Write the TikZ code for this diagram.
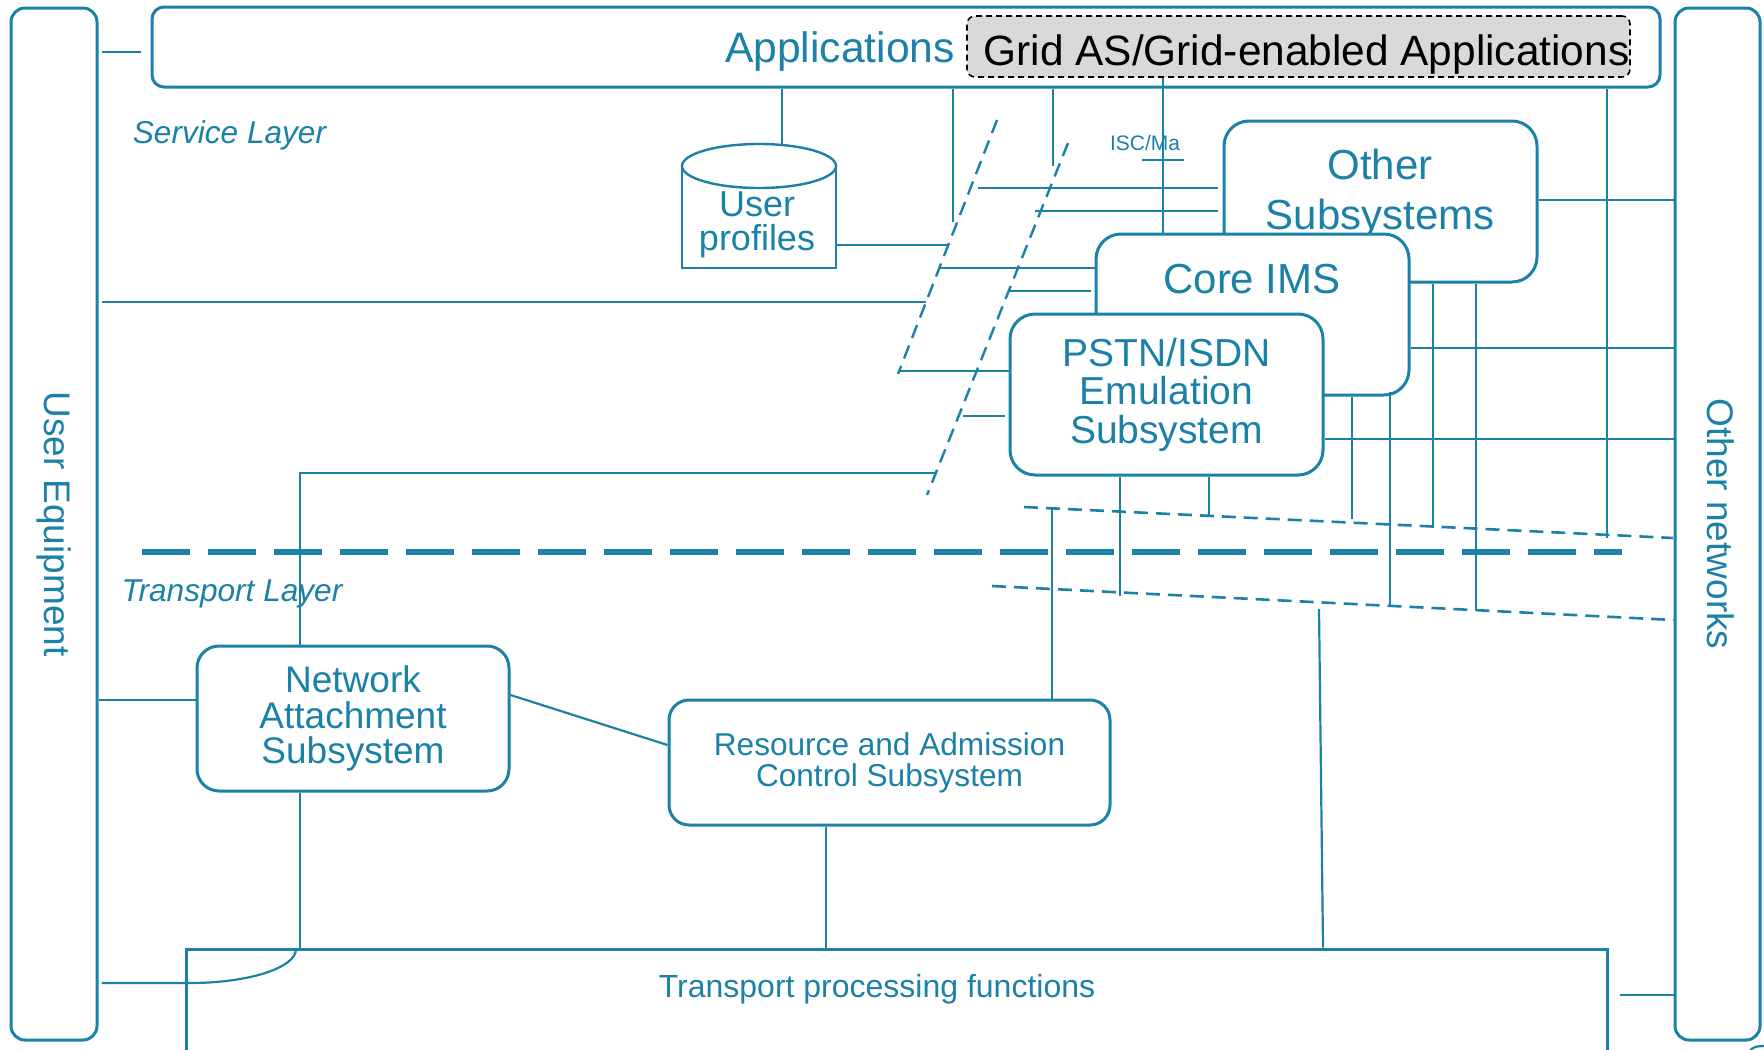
\documentclass[tikz,border=0pt]{standalone}
\usepackage{fontspec}
\setmainfont{Liberation Sans}
\definecolor{netblue}{HTML}{1B81A7}
\tikzset{
  box/.style={draw=netblue, line width=1.5pt, fill=white, rounded corners=#1,
    inner sep=0pt, text=netblue},
  box/.default=12.5pt,
  conn/.style={draw=netblue, line width=1.1pt},
  sdash/.style={draw=netblue, line width=1.2pt, dash pattern=on 7pt off 4pt},
  hdash/.style={draw=netblue, line width=1.3pt, dash pattern=on 7pt off 4pt},
  layerline/.style={draw=netblue, line width=3pt, dash pattern=on 24pt off 9pt},
  lbl/.style={text=netblue, inner sep=0pt},
  fs/.style 2 args={font=\fontsize{#1}{#2}\selectfont},
  layertext/.style={text=netblue, inner sep=0pt, anchor=base,
    font=\fontsize{15.8}{19}\selectfont\itshape},
}
\begin{document}
\begin{tikzpicture}[x=0.5pt, y=-0.5pt]
\useasboundingbox (0,0) rectangle (1764,1049);

% side columns
\node[box=7pt, minimum width=43pt, minimum height=516pt] (ue) at (54,524) {};
\node[lbl, rotate=-90, fs={18.5}{22}] (uetext) at (54.5,524) {User Equipment};
\node[box=7pt, minimum width=42.5pt, minimum height=516pt] (on) at (1717.5,524) {};
\node[lbl, rotate=-90, fs={18.5}{22}] (ontext) at (1721,524) {Other networks};

% applications bar
\node[box=6pt, minimum width=754pt, minimum height=40pt] (app) at (906,47) {};
\node[lbl, anchor=base, fs={21.3}{25}] (apptext) at (840,62) {Applications};
\node[draw=black, line width=0.8pt, dash pattern=on 3pt off 2pt, fill=black!15,
  rounded corners=4pt, minimum width=331.5pt, minimum height=30.5pt, inner sep=0pt]
  (grid) at (1298.5,46.5) {};
\node[anchor=base, inner sep=0pt, fs={21.2}{25}] (gridtext) at (1306.5,65)
  {Grid AS/Grid-enabled Applications};

% layer labels
\node[layertext] (svc) at (229.5,143) {Service Layer};
\node[layertext] (trl) at (232,601) {Transport Layer};

% layer separator
\coordinate (sep1) at (142,552);
\coordinate (sep2) at (1622,552);
\draw[layerline] (sep1) -- (sep2);

% user profiles store
\draw[netblue, line width=1.2pt] (682,166) -- (682,268) -- (836,268) -- (836,166);
\draw[netblue, line width=1.2pt, fill=white] (759,166) ellipse [x radius=77, y radius=22];
\node[lbl, align=center, fs={18}{16.8}] (up) at (757,225) {User\\profiles};
\coordinate (uptop) at (782,144);
\coordinate (upright) at (836,245);

% subsystem boxes
\node[box, minimum width=156.5pt, minimum height=80.5pt] (os) at (1380.5,201.5) {};
\node[lbl, align=center, fs={21}{25}] (ostext) at (1380,194) {Other\\Subsystems};
\node[box, minimum width=156.5pt, minimum height=80.5pt] (ims) at (1252.5,314.5) {};
\node[lbl, anchor=base, fs={21}{25}] (imstext) at (1252,293) {Core IMS};
\node[box, minimum width=156.5pt, minimum height=80.5pt, align=center, fs={19.5}{19.25}]
  (pstn) at (1166.5,394.5) {PSTN/ISDN\\Emulation\\Subsystem};

\node[box=11pt, minimum width=156pt, minimum height=72.5pt, align=center, fs={18.5}{17.75}]
  (nas) at (353,718.5) {Network\\Attachment\\Subsystem};
\node[box=10pt, minimum width=220.5pt, minimum height=62.5pt, align=center, fs={15.8}{15.5}]
  (racs) at (889.5,762.5) {Resource and Admission\\Control Subsystem};
\node[draw=netblue, line width=1.5pt, minimum width=710.5pt, minimum height=63pt, inner sep=0pt]
  (tpf) at (896.5,1012) {};
\node[lbl, anchor=base, fs={16}{19}] (tpftext) at (877,997) {Transport processing functions};

% reference point boundaries
\coordinate (a1) at (997,120);  \coordinate (a2) at (898,374);
\coordinate (b1) at (1068,143); \coordinate (b2) at (927,495);
\coordinate (u1) at (1024,507); \coordinate (u2) at (1673,538);
\coordinate (l1) at (992,586);
\draw[sdash] (a1) -- (a2);
\draw[sdash] (b1) -- (b2);
\draw[hdash] (u1) -- (u2);
\draw[hdash] (l1) -- (on.west |- 0,620);

% interface label
\node[lbl, anchor=base, fs={10.5}{12}] (isc) at (1145,150) {ISC/Ma};
\draw[conn] (1142,160) -- (1184,160);

% service layer connections
\draw[conn, shorten <=1.5pt, shorten >=5pt] (ue.east |- 0,52) -- (app.west |- 0,52);
\draw[conn] (app.south -| uptop) -- (uptop);
\draw[conn] (upright) -- (948,245);
\draw[conn, shorten <=1.5pt] (ue.east |- 0,302) -- (926,302);
\draw[conn] (app.south -| 953,0) -- (953,222);
\draw[conn] (app.south -| 1053,0) -- (1053,166);
\draw[conn] (app.south -| 1607,0) -- (1607,538);
\draw[conn] (grid.south -| 1163,0) -- (ims.north -| 1163,0);
\draw[conn, shorten >=2.5pt] (978,188) -- (os.west |- 0,188);
\draw[conn, shorten >=2.5pt] (1035,211) -- (os.west |- 0,211);
\draw[conn] (939,268) -- (ims.west |- 0,268);
\draw[conn, shorten >=2pt] (1008,291) -- (ims.west |- 0,291);
\draw[conn] (898,371) -- (pstn.west |- 0,371);
\draw[conn, shorten >=2pt] (963,416) -- (pstn.west |- 0,416);

% links to other networks
\draw[conn] (os.east |- 0,200) -- (on.west |- 0,200);
\draw[conn] (ims.east |- 0,348) -- (on.west |- 0,348);
\draw[conn] (pstn.east |- 0,439) -- (on.west |- 0,439);
\draw[conn, shorten <=5.5pt] (tpf.east |- 0,995) -- (on.west |- 0,995);

% links down to the transport layer
\draw[conn] (pstn.south -| 1120,0) -- (1120,596);
\draw[conn] (pstn.south -| 1209,0) -- (1209,517);
\draw[conn] (ims.south -| 1352,0) -- (1352,519);
\draw[conn] (1390,392) -- (1390,607);
\draw[conn] (os.south -| 1433,0) -- (1433,528);
\draw[conn] (os.south -| 1476,0) -- (1476,610);
\draw[conn] (1319,609) -- (tpf.north -| 1323,0);
\draw[conn] (1052,507) -- (racs.north -| 1052,0);

% transport layer connections
\draw[conn] (936,473) -- (300,473) -- (nas.north -| 300,0);
\draw[conn] (nas.south -| 300,0) -- (tpf.north -| 300,0);
\draw[conn] (ue.east |- 0,700) -- (nas.west |- 0,700);
\draw[conn] (nas.east |- 0,695) -- (racs.west |- 0,745);
\draw[conn] (racs.south -| 826,0) -- (tpf.north -| 826,0);
\draw[conn, shorten <=1.5pt] (ue.east |- 0,983) -- (190,983)
  .. controls (248,983) and (296,968) .. (296,949);

% edge of a further element at the page corner
\draw[conn] (1749,1052) .. controls (1752,1047) and (1756,1046) .. (1766,1046);
\end{tikzpicture}
\end{document}
